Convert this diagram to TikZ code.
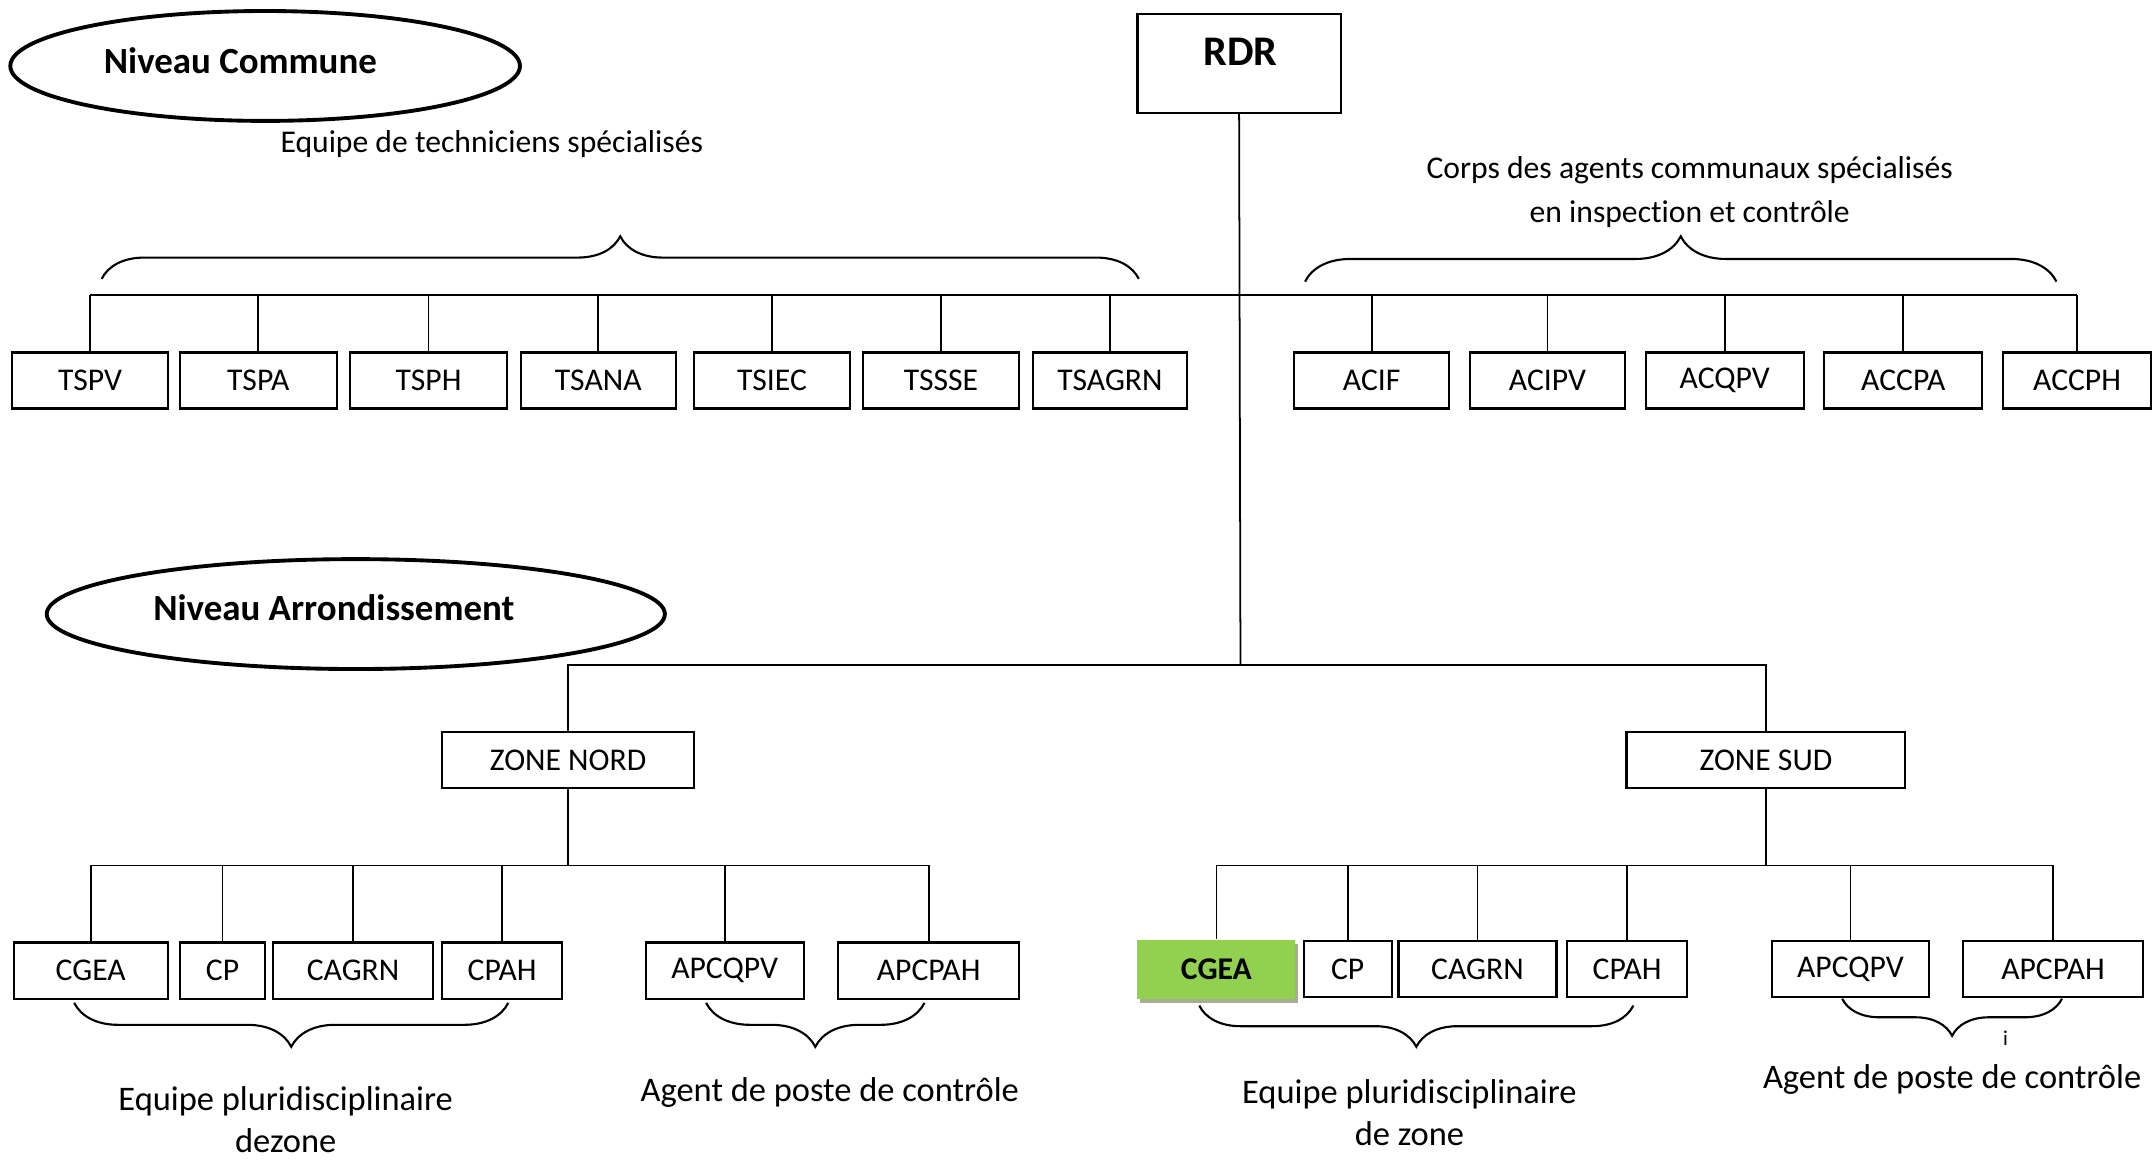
\documentclass[tikz,border=0pt]{standalone}
\usepackage{fontspec}
\setmainfont{Carlito}[Ligatures=NoCommon]
\usetikzlibrary{shapes.geometric,decorations.pathreplacing,shadows}
\definecolor{vertcgea}{HTML}{92D050}
\definecolor{ombrecgea}{HTML}{A5AE8E}

\tikzset{
  boite/.style={draw, line width=0.6pt, inner sep=0pt, minimum width=#1*0.013737cm,
     minimum height=0.56cm, font=\fontsize{9}{11}\selectfont},
  niveau/.style args={#1,#2}{ellipse, draw, line width=1.1pt, inner sep=0pt,
     minimum width=#1*0.013737cm, minimum height=#2*0.013737cm},
  accolade/.style={decorate, decoration={brace, amplitude=#1*0.013737cm}, line width=0.6pt},
  legende/.style={font=\fontsize{9}{12.5}\selectfont, align=center},
  legendebas/.style={font=\fontsize{9.8}{11.8}\selectfont, align=center}
}

\begin{document}
\begin{tikzpicture}[x=0.013737cm, y=-0.013737cm, line width=0.5pt]
  \useasboundingbox (0,0) rectangle (1568,844);

  % niveau commune
  \node[niveau={371,80}] (commune) at (193,48) {};
  \node[font=\fontsize{10.5}{12}\selectfont\bfseries] (communetxt) at (175,44) {Niveau Commune};
  \node[boite=148, minimum height=72*0.013737cm] (rdr) at (902,46) {};
  \node[font=\fontsize{12}{14}\selectfont\bfseries] (rdrtxt) at (903,38) {RDR};

  \node[legende] (techtxt) at (358,105) {Equipe de techniciens spécialisés};
  \node[legende] (corpstxt) at (1230,140) {Corps des agents communaux spécialisés\\en inspection et contrôle};
  \draw[accolade=31] (74,203) -- (829,203);
  \draw[accolade=33] (950,205) -- (1497,205);

  \node[boite=113] (tspv) at (65.5,277) {TSPV};
  \node[boite=114] (tspa) at (188,277) {TSPA};
  \node[boite=114] (tsph) at (312,277) {TSPH};
  \node[boite=113] (tsana) at (435.5,277) {TSANA};
  \node[boite=114] (tsiec) at (562,277) {TSIEC};
  \node[boite=114] (tssse) at (685,277) {TSSSE};
  \node[boite=112] (tsagrn) at (808,277) {TSAGRN};
  \node[boite=113] (acif) at (998.5,277) {ACIF};
  \node[boite=113] (acipv) at (1126.5,277) {ACIPV};
  \node[boite=115] (acqpv) at (1255.5,277) {ACQPV};
  \node[boite=115] (accpa) at (1385.5,277) {ACCPA};
  \node[boite=108] (accph) at (1512,277) {ACCPH};

  \coordinate (bushaut) at (903,215);
  \draw[line width=0.6pt] (tspv.north |- bushaut) -- (accph.north |- bushaut);
  \draw (tspv.north) -- (tspv.north |- bushaut) (tspa.north) -- (tspa.north |- bushaut)
        (tsph.north) -- (tsph.north |- bushaut) (tsana.north) -- (tsana.north |- bushaut)
        (tsiec.north) -- (tsiec.north |- bushaut) (tssse.north) -- (tssse.north |- bushaut)
        (tsagrn.north) -- (tsagrn.north |- bushaut);
  \draw (acif.north) -- (acif.north |- bushaut) (acipv.north) -- (acipv.north |- bushaut)
        (acqpv.north) -- (acqpv.north |- bushaut) (accpa.north) -- (accpa.north |- bushaut)
        (accph.north) -- (accph.north |- bushaut);

  % niveau arrondissement
  \node[niveau={450,80}] (arrond) at (259,447) {};
  \node[font=\fontsize{10.5}{12}\selectfont\bfseries] (arrondtxt) at (243,442) {Niveau Arrondissement};

  \node[boite=183] (nord) at (413.5,553.5) {ZONE NORD};
  \node[boite=203] (sud) at (1285.5,553.5) {ZONE SUD};
  \coordinate (busarr) at (903,484);
  \draw (rdr.south) -- (busarr);
  \draw (nord.north) -- (nord.north |- busarr) -- (sud.north |- busarr) -- (sud.north);

  % zone nord
  \node[boite=112] (cgeaN) at (66,706.5) {CGEA};
  \node[boite=62] (cpN) at (162,706.5) {CP};
  \node[boite=116] (cagrnN) at (257,706.5) {CAGRN};
  \node[boite=87] (cpahN) at (365.5,706.5) {CPAH};
  \node[boite=115] (apcqpvN) at (527.5,706.5) {APCQPV};
  \node[boite=132] (apcpahN) at (676,706.5) {APCPAH};
  \coordinate (busnord) at (413.5,630);
  \draw (nord.south) -- (busnord);
  \draw (cgeaN.north) |- (busnord) -| (apcpahN.north);
  \draw (cpN.north) -- (cpN.north |- busnord) (cagrnN.north) -- (cagrnN.north |- busnord)
        (cpahN.north) -- (cpahN.north |- busnord) (apcqpvN.north) -- (apcqpvN.north |- busnord);
  \draw[accolade=32] (370,730) -- (54,730);
  \draw[accolade=32] (673,730) -- (514,730);
  \node[legendebas] (equipeN) at (208,815) {Equipe pluridisciplinaire\\dezone};
  \node[legendebas] (agentN) at (604,795) {Agent de poste de contrôle};

  % zone sud
  \node[boite=115, draw=none, fill=vertcgea, minimum height=43*0.013737cm, font=\fontsize{9}{11}\selectfont\bfseries,
        drop shadow={shadow xshift=0.03cm, shadow yshift=-0.045cm, fill=ombrecgea, opacity=1}] (cgeaS) at (885.5,705.5) {CGEA};
  \node[boite=64] (cpS) at (981,705.5) {CP};
  \node[boite=115] (cagrnS) at (1075.5,705.5) {CAGRN};
  \node[boite=87] (cpahS) at (1184.5,705.5) {CPAH};
  \node[boite=114] (apcqpvS) at (1347,705.5) {APCQPV};
  \node[boite=131] (apcpahS) at (1494.5,705.5) {APCPAH};
  \coordinate (bussud) at (1285.5,630);
  \draw (sud.south) -- (bussud);
  \draw (cgeaS.north) |- (bussud) -| (apcpahS.north);
  \draw (cpS.north) -- (cpS.north |- bussud) (cagrnS.north) -- (cagrnS.north |- bussud)
        (cpahS.north) -- (cpahS.north |- bussud) (apcqpvS.north) -- (apcqpvS.north |- bussud);
  \draw[accolade=30] (1189,732) -- (873,732);
  \draw[accolade=27] (1501,727) -- (1341,727);
  \node[font=\fontsize{6}{7}\selectfont] (point) at (1460,756) {i};
  \node[legendebas] (equipeS) at (1026,810) {Equipe pluridisciplinaire\\de zone};
  \node[legendebas] (agentS) at (1421,786) {Agent de poste de contrôle};
\end{tikzpicture}
\end{document}
